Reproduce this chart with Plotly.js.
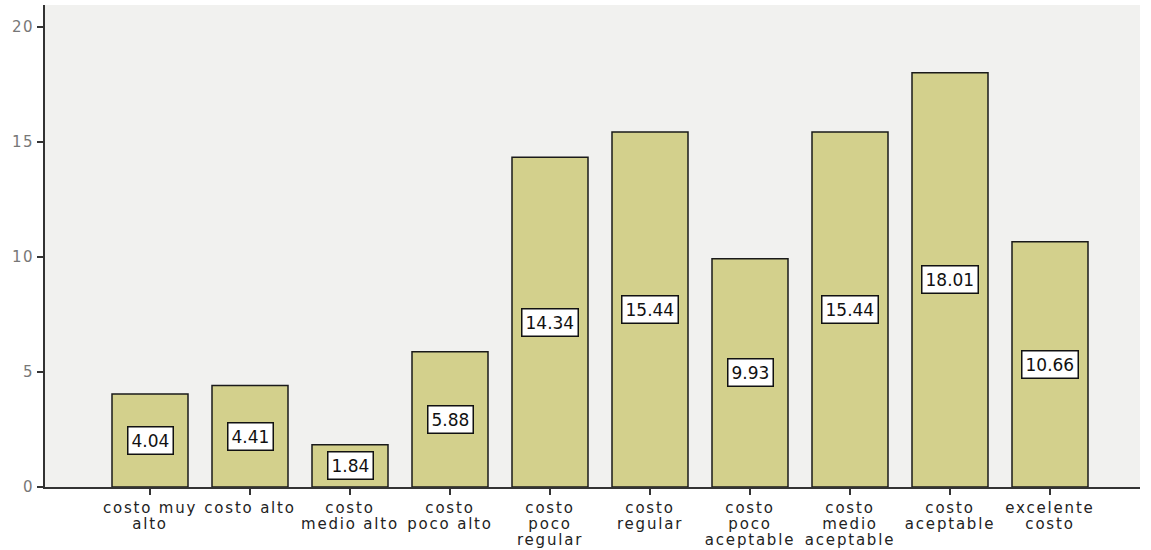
<!DOCTYPE html>
<html>
<head>
<meta charset="utf-8">
<script src="https://cdn.plot.ly/plotly-3.0.1.min.js"></script>
<style>
html,body{margin:0;padding:0;background:#fff;}
#chart{width:1151px;height:550px;}
.xtick text{letter-spacing:1.8px;}
.ytick text{letter-spacing:1.5px;}
</style>
</head>
<body>
<div id="chart"></div>
<script>
const categories = ["costo muy alto","costo alto","costo medio alto","costo poco alto","costo poco regular","costo regular","costo poco aceptable","costo medio aceptable","costo aceptable","excelente costo"];
const tickLabels = ["costo muy<br>alto","costo alto","costo<br>medio alto","costo<br>poco alto","costo<br>poco<br>regular","costo<br>regular","costo<br>poco<br>aceptable","costo<br>medio<br>aceptable","costo<br>aceptable","excelente<br>costo"];
const values = [4.04, 4.41, 1.84, 5.88, 14.34, 15.44, 9.93, 15.44, 18.01, 10.66];
const valueLabels = ["4.04","4.41","1.84","5.88","14.34","15.44","9.93","15.44","18.01","10.66"];
const yTicks = [0, 5, 10, 15, 20];

const trace = {
  type: 'bar',
  x: categories,
  y: values,
  width: 0.76,
  marker: {color: '#d3d08c', line: {color: '#1a1a1a', width: 1.5}},
  hoverinfo: 'skip'
};

const annotations = categories.map((c, i) => ({
  x: c, y: values[i] / 2, xref: 'x', yref: 'y',
  text: valueLabels[i], showarrow: false,
  font: {family: 'DejaVu Sans, sans-serif', size: 17, color: '#111'},
  bgcolor: '#ffffff', bordercolor: '#111', borderwidth: 1.5, borderpad: 3
}));

const layout = {
  width: 1151, height: 550,
  margin: {l: 45, r: 11, t: 5, b: 63},
  paper_bgcolor: '#ffffff',
  plot_bgcolor: '#f1f1ef',
  showlegend: false,
  xaxis: {
    type: 'category',
    range: [-1.05, 9.9],
    tickvals: categories, ticktext: tickLabels,
    showline: true, linecolor: '#333', linewidth: 2,
    ticks: 'outside', ticklen: 6, tickcolor: '#333', tickwidth: 2,
    showgrid: false, zeroline: false,
    tickangle: 0,
    tickfont: {family: 'DejaVu Sans, sans-serif', size: 15, color: '#222'}
  },
  yaxis: {
    range: [0, 20.96],
    tickvals: yTicks,
    showline: true, linecolor: '#333', linewidth: 2,
    ticks: 'outside', ticklen: 6, tickcolor: '#333', tickwidth: 2,
    showgrid: false, zeroline: false,
    tickfont: {family: 'DejaVu Sans, sans-serif', size: 15, color: '#777'}
  },
  annotations: annotations
};

Plotly.newPlot('chart', [trace], layout, {displayModeBar: false, staticPlot: true}).then(() => {
  document.querySelectorAll('.xtick text tspan.line').forEach(t => {
    const dy = parseFloat(t.getAttribute('dy'));
    if (dy) t.setAttribute('dy', (dy * 1.07 / 1.3).toFixed(3) + 'em');
  });
});
</script>
</body>
</html>
